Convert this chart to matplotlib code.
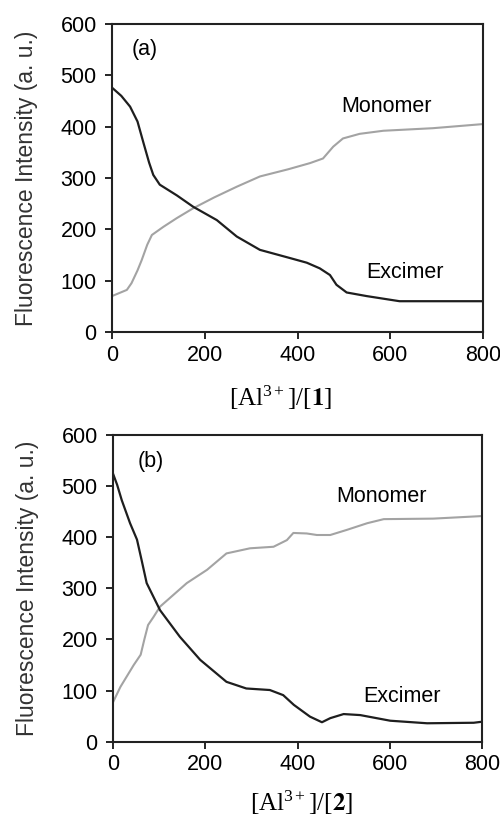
import numpy as np
import matplotlib
matplotlib.use("Agg")
from matplotlib import pyplot as plt

plt.rcParams["font.family"] = ["Liberation Sans", "DejaVu Sans"]
plt.rcParams["mathtext.fontset"] = "stix"

# panel (a): [Al3+]/[1]
a_exc_x = [0, 20, 39, 55, 68, 80, 89, 103, 140, 175, 226, 269, 319, 384, 420, 448, 470, 484, 506, 549, 620, 800]
a_exc_y = [476, 460, 439, 410, 368, 330, 306, 287, 266, 244, 218, 186, 160, 144, 135, 124, 111, 92, 77, 70, 60, 60]
a_mon_x = [0, 32, 42, 55, 64, 76, 86, 111, 140, 175, 220, 269, 319, 380, 427, 455, 477, 498, 534, 585, 692, 800]
a_mon_y = [70, 82, 95, 120, 140, 170, 189, 205, 222, 241, 262, 283, 303, 317, 329, 338, 361, 377, 386, 392, 397, 405]

# panel (b): [Al3+]/[2]
b_exc_x = [0, 9, 19, 37, 52, 62, 73, 102, 145, 189, 246, 289, 340, 369, 392, 427, 453, 471, 500, 536, 601, 681, 782, 800]
b_exc_y = [524, 502, 472, 427, 395, 355, 310, 257, 205, 160, 117, 104, 101, 91, 72, 49, 38, 46, 54, 52, 41, 36, 37, 39]
b_mon_x = [0, 16, 45, 60, 68, 76, 88, 102, 160, 204, 246, 297, 348, 377, 391, 420, 442, 471, 507, 551, 587, 694, 800]
b_mon_y = [77, 107, 150, 170, 200, 228, 244, 264, 310, 336, 368, 378, 381, 394, 408, 407, 404, 404, 414, 427, 435, 436, 441]

panels = [
    ("(a)", a_exc_x, a_exc_y, a_mon_x, a_mon_y, r"[Al$^{\mathregular{3+}}$]/[$\mathbf{1}$]",
     (592, 440), (631, 116), (71, 551), (0.453, -0.165)),
    ("(b)", b_exc_x, b_exc_y, b_mon_x, b_mon_y, r"[Al$^{\mathregular{3+}}$]/[$\mathbf{2}$]",
     (583, 479), (626, 89), (81, 547), (0.51, -0.152)),
]

fig = plt.figure(figsize=(5.0, 8.21), dpi=100)
rects = [[0.224, 0.5956, 0.742, 0.3752], [0.226, 0.0966, 0.738, 0.3739]]

for rect, (tag, ex, ey, mx, my, xlab, mon_pos, exc_pos, tag_pos, xl_pos) in zip(rects, panels):
    ax = fig.add_axes(rect)
    ax.plot(mx, my, color="#a3a3a3", lw=1.5)
    ax.plot(ex, ey, color="#1e1e1e", lw=1.6)
    ax.set_xlim(0, 800)
    ax.set_ylim(0, 600)
    ax.set_xticks([0, 200, 400, 600, 800])
    ax.set_yticks([0, 100, 200, 300, 400, 500, 600])
    ax.tick_params(direction="out", length=5, width=1.2, labelsize=15.5)
    ax.tick_params(axis="y", pad=6)
    ax.tick_params(axis="x", pad=4)
    for sp in ax.spines.values():
        sp.set_linewidth(1.5)
        sp.set_color("#222222")
    ax.text(*mon_pos, "Monomer", ha="center", va="center", fontsize=15.5)
    ax.text(*exc_pos, "Excimer", ha="center", va="center", fontsize=15.5)
    ax.text(*tag_pos, tag, ha="center", va="center", fontsize=15.5)
    ax.set_ylabel("Fluorescence Intensity (a. u.)", fontsize=16.5, color="#333333")
    ax.yaxis.set_label_coords(-0.2, 0.5)
    ax.set_xlabel(xlab, fontsize=18, family="Liberation Serif")
    ax.xaxis.set_label_coords(*xl_pos)

fig.savefig("out.png", dpi=100)
plt.close(fig)
